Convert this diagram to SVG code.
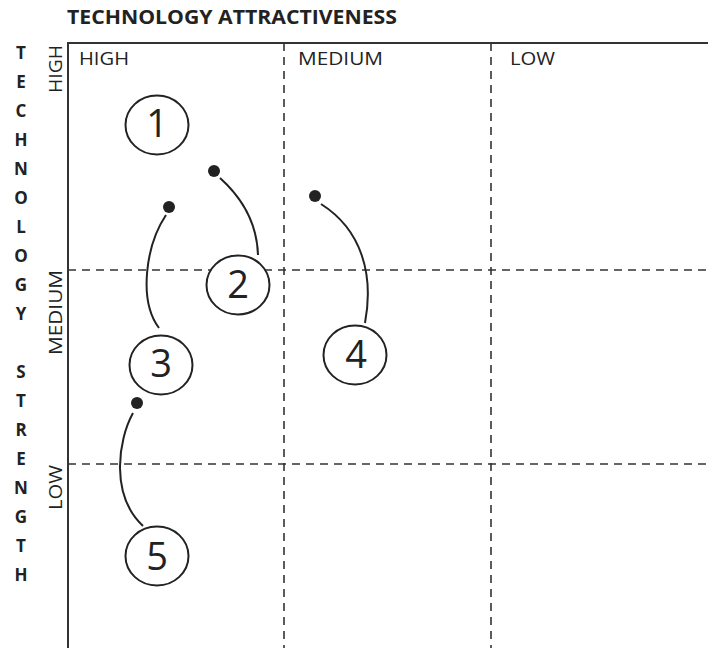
<svg xmlns="http://www.w3.org/2000/svg" width="708" height="648" viewBox="0 0 708 648">
  <style>
    .title { font-family: "Open Sans", "DejaVu Sans", sans-serif; font-weight: 700; font-size: 20px; fill: #222; }
    .axis { font-family: "Open Sans", "DejaVu Sans", sans-serif; font-weight: 700; font-size: 17px; fill: #222; }
    .lbl { font-family: "Open Sans", "DejaVu Sans", sans-serif; font-size: 19px; fill: #222; }
    .num { font-family: "Open Sans", "DejaVu Sans", sans-serif; font-size: 38px; fill: #222; text-anchor: middle; }
    .frame { stroke: #333; stroke-width: 2; fill: none; }
    .grid { stroke: #333; stroke-width: 1.6; stroke-dasharray: 8 6; fill: none; }
    .ring { stroke: #222; stroke-width: 2; fill: #fff; }
    .link { stroke: #222; stroke-width: 2; fill: none; }
    .dot { fill: #222; }
  </style>

  <rect width="708" height="648" fill="#fff"/>

  <!-- headings -->
  <text class="title" x="67" y="24" textLength="330" lengthAdjust="spacingAndGlyphs">TECHNOLOGY ATTRACTIVENESS</text>
  <text class="axis" x="21" y="59" text-anchor="middle">
    <tspan x="21" y="59">T</tspan><tspan x="21" y="88">E</tspan><tspan x="21" y="117">C</tspan><tspan x="21" y="146">H</tspan><tspan x="21" y="175">N</tspan><tspan x="21" y="204">O</tspan><tspan x="21" y="233">L</tspan><tspan x="21" y="262">O</tspan><tspan x="21" y="291">G</tspan><tspan x="21" y="320">Y</tspan><tspan x="21" y="378">S</tspan><tspan x="21" y="407">T</tspan><tspan x="21" y="436">R</tspan><tspan x="21" y="465">E</tspan><tspan x="21" y="494">N</tspan><tspan x="21" y="523">G</tspan><tspan x="21" y="552">T</tspan><tspan x="21" y="581">H</tspan>
  </text>

  <!-- column labels -->
  <text class="lbl" x="79" y="65" textLength="50" lengthAdjust="spacingAndGlyphs">HIGH</text>
  <text class="lbl" x="298" y="65" textLength="85" lengthAdjust="spacingAndGlyphs">MEDIUM</text>
  <text class="lbl" x="510" y="65" textLength="45" lengthAdjust="spacingAndGlyphs">LOW</text>

  <!-- row labels -->
  <text class="lbl" transform="translate(62,45) rotate(-90)" text-anchor="end" textLength="48" lengthAdjust="spacingAndGlyphs">HIGH</text>
  <text class="lbl" transform="translate(62,270) rotate(-90)" text-anchor="end" textLength="85" lengthAdjust="spacingAndGlyphs">MEDIUM</text>
  <text class="lbl" transform="translate(62,465) rotate(-90)" text-anchor="end" textLength="45" lengthAdjust="spacingAndGlyphs">LOW</text>

  <!-- matrix grid -->
  <g id="grid">
    <line class="grid" x1="284" y1="43" x2="284" y2="648"/>
    <line class="grid" x1="491" y1="43" x2="491" y2="648"/>
    <line class="grid" x1="68" y1="270" x2="708" y2="270"/>
    <line class="grid" x1="68" y1="464" x2="708" y2="464"/>
    <line class="frame" x1="67" y1="43" x2="708" y2="43"/>
    <line class="frame" x1="68" y1="42" x2="68" y2="648"/>
  </g>

  <!-- leader lines from markers to numbered callouts -->
  <g id="connectors">
    <path class="link" d="M220,178 C240,196 257,222 258,255"/>
    <path class="link" d="M166,215 C146,245 138,300 159,328"/>
    <path class="link" d="M321,204 C362,230 374,275 365,323"/>
    <path class="link" d="M133,413 C118,440 110,495 143,526"/>
    <circle class="dot" cx="214" cy="171" r="6"/>
    <circle class="dot" cx="169" cy="207" r="6"/>
    <circle class="dot" cx="315" cy="196" r="6"/>
    <circle class="dot" cx="137" cy="403" r="6"/>
  </g>

  <g id="node1">
    <ellipse class="ring" cx="157" cy="125" rx="31.5" ry="29.5"/>
    <text class="num" x="157" y="137">1</text>
  </g>
  <g id="node2">
    <ellipse class="ring" cx="238" cy="285" rx="31.5" ry="29.5"/>
    <text class="num" x="238" y="298">2</text>
  </g>
  <g id="node3">
    <ellipse class="ring" cx="161" cy="365" rx="31.5" ry="29.5"/>
    <text class="num" x="161" y="377">3</text>
  </g>
  <g id="node4">
    <ellipse class="ring" cx="355" cy="355" rx="31.5" ry="29.5"/>
    <text class="num" x="356" y="368">4</text>
  </g>
  <g id="node5">
    <ellipse class="ring" cx="157" cy="556" rx="31.5" ry="29.5"/>
    <text class="num" x="157" y="570">5</text>
  </g>
</svg>
